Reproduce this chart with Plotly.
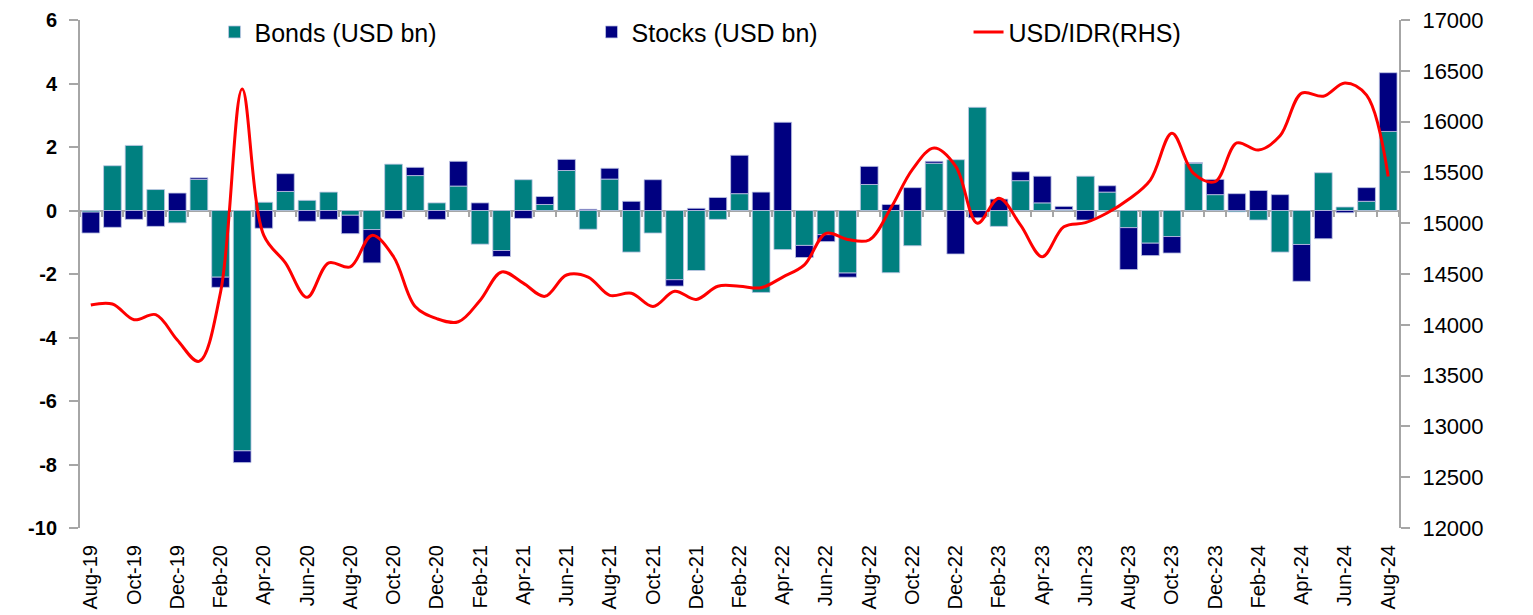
import plotly.graph_objects as go

months = ["Aug-19","Sep-19","Oct-19","Nov-19","Dec-19",
          "Jan-20","Feb-20","Mar-20","Apr-20","May-20","Jun-20","Jul-20","Aug-20","Sep-20","Oct-20","Nov-20","Dec-20",
          "Jan-21","Feb-21","Mar-21","Apr-21","May-21","Jun-21","Jul-21","Aug-21","Sep-21","Oct-21","Nov-21","Dec-21",
          "Jan-22","Feb-22","Mar-22","Apr-22","May-22","Jun-22","Jul-22","Aug-22","Sep-22","Oct-22","Nov-22","Dec-22",
          "Jan-23","Feb-23","Mar-23","Apr-23","May-23","Jun-23","Jul-23","Aug-23","Sep-23","Oct-23","Nov-23","Dec-23",
          "Jan-24","Feb-24","Mar-24","Apr-24","May-24","Jun-24","Jul-24","Aug-24"]

bonds = [-0.05, 1.41, 2.05, 0.66, -0.39,
         0.98, -2.10, -7.57, 0.26, 0.60, 0.32, 0.58, -0.15, -0.60, 1.46, 1.10, 0.24,
         0.77, -1.06, -1.26, 0.97, 0.19, 1.26, -0.59, 0.99, -1.31, -0.71, -2.18, -1.89,
         -0.28, 0.53, -2.58, -1.23, -1.10, -0.76, -1.97, 0.82, -1.96, -1.11, 1.49, 1.60,
         3.25, -0.50, 0.94, 0.24, 0.03, 1.08, 0.58, -0.54, -1.03, -0.82, 1.49, 0.50,
         -0.04, -0.30, -1.31, -1.07, 1.19, 0.11, 0.29, 2.49]

stocks = [-0.66, -0.53, -0.28, -0.50, 0.55,
          0.05, -0.32, -0.37, -0.56, 0.56, -0.34, -0.28, -0.58, -1.05, -0.26, 0.26, -0.28,
          0.78, 0.24, -0.19, -0.25, 0.25, 0.35, 0.04, 0.34, 0.29, 0.97, -0.20, 0.07,
          0.41, 1.21, 0.58, 2.78, -0.38, -0.22, -0.13, 0.57, 0.19, 0.72, 0.06, -1.37,
          -0.23, 0.36, 0.28, 0.84, 0.10, -0.30, 0.20, -1.32, -0.39, -0.52, 0.02, 0.48,
          0.53, 0.63, 0.50, -1.16, -0.89, -0.07, 0.43, 1.85]

usd_idr = [14195, 14205, 14050, 14100, 13850,
           13640, 14320, 16320, 14880, 14610, 14270, 14610, 14570, 14880, 14670, 14180, 14060,
           14030, 14240, 14520, 14410, 14280, 14490, 14470, 14290, 14310, 14180, 14330, 14250,
           14380, 14380, 14365, 14470, 14590, 14900, 14840, 14835, 15150, 15530, 15740, 15560,
           15000, 15245, 14980, 14670, 14965, 15005, 15100, 15235, 15425, 15885, 15490, 15410,
           15790, 15720, 15860, 16280, 16250, 16380, 16260, 15460]

left_ticks = [6, 4, 2, 0, -2, -4, -6, -8, -10]
right_ticks = [17000, 16500, 16000, 15500, 15000, 14500, 14000, 13500, 13000, 12500, 12000]

FONT = "Liberation Sans, Arial, sans-serif"
AXIS_GREY = "#a6a6a6"

fig = go.Figure()
fig.add_trace(go.Bar(
    x=months, y=bonds, name="Bonds (USD bn)",
    marker=dict(color="#008080", line=dict(color="#c0c6e4", width=0.8)),
))
fig.add_trace(go.Bar(
    x=months, y=stocks, name="Stocks (USD bn)",
    marker=dict(color="#000080", line=dict(color="#c0c6e4", width=0.8)),
))
fig.add_trace(go.Scatter(
    x=months, y=usd_idr, name="USD/IDR(RHS)", xaxis="x2", yaxis="y2", mode="lines",
    line=dict(color="#ff0000", width=3, shape="spline", smoothing=1.0),
))

n = len(months)

fig.update_layout(
    width=1525, height=607,
    margin=dict(l=72, r=134, t=12, b=87, autoexpand=False),
    paper_bgcolor="white", plot_bgcolor="white",
    barmode="relative", bargap=0.18,
    font=dict(family=FONT, color="black"),
    showlegend=True,
    legend=dict(
        orientation="h", x=0.102, y=0.976, xanchor="left", yanchor="middle",
        font=dict(size=25, family=FONT, color="black"),
        bgcolor="rgba(0,0,0,0)", entrywidth=332, entrywidthmode="pixels",
        traceorder="normal",
    ),
    xaxis=dict(
        type="category", range=[-0.5, n - 0.5],
        tickvals=months[::2], ticktext=months[::2],
        tickangle=-90, tickfont=dict(size=20, family=FONT),
        ticks="outside", ticklen=8, tickcolor="rgba(0,0,0,0)",
        showline=False, showgrid=False, zeroline=False,
        ticklabeloverflow="allow",
    ),
    xaxis2=dict(
        type="category", overlaying="x", anchor="free", position=10 / 16, side="bottom",
        range=[-0.5, n - 0.5], tickson="boundaries",
        ticks="outside", ticklen=5, tickwidth=1.5, tickcolor=AXIS_GREY,
        showticklabels=False, showline=False, showgrid=False, zeroline=False,
    ),
    yaxis=dict(
        range=[-10, 6], tickvals=left_ticks, ticktext=[str(v) for v in left_ticks],
        tickfont=dict(size=20, family="Liberation Sans", weight="bold"),
        ticks="outside", ticklen=9, tickwidth=1.5, tickcolor=AXIS_GREY,
        showline=True, linecolor=AXIS_GREY, linewidth=2,
        showgrid=False, zeroline=True, zerolinecolor=AXIS_GREY, zerolinewidth=2,
        ticklabelstandoff=8, ticklabeloverflow="allow",
    ),
    yaxis2=dict(
        range=[12000, 17000], tickvals=right_ticks, ticktext=[str(v) for v in right_ticks],
        overlaying="y", side="right", anchor="x2",
        tickfont=dict(size=22, family=FONT),
        ticks="outside", ticklen=9, tickwidth=1.5, tickcolor=AXIS_GREY,
        showline=True, linecolor=AXIS_GREY, linewidth=2,
        showgrid=False, zeroline=False, ticklabelstandoff=8, ticklabeloverflow="allow",
    ),
)

fig.write_html("out.html")
